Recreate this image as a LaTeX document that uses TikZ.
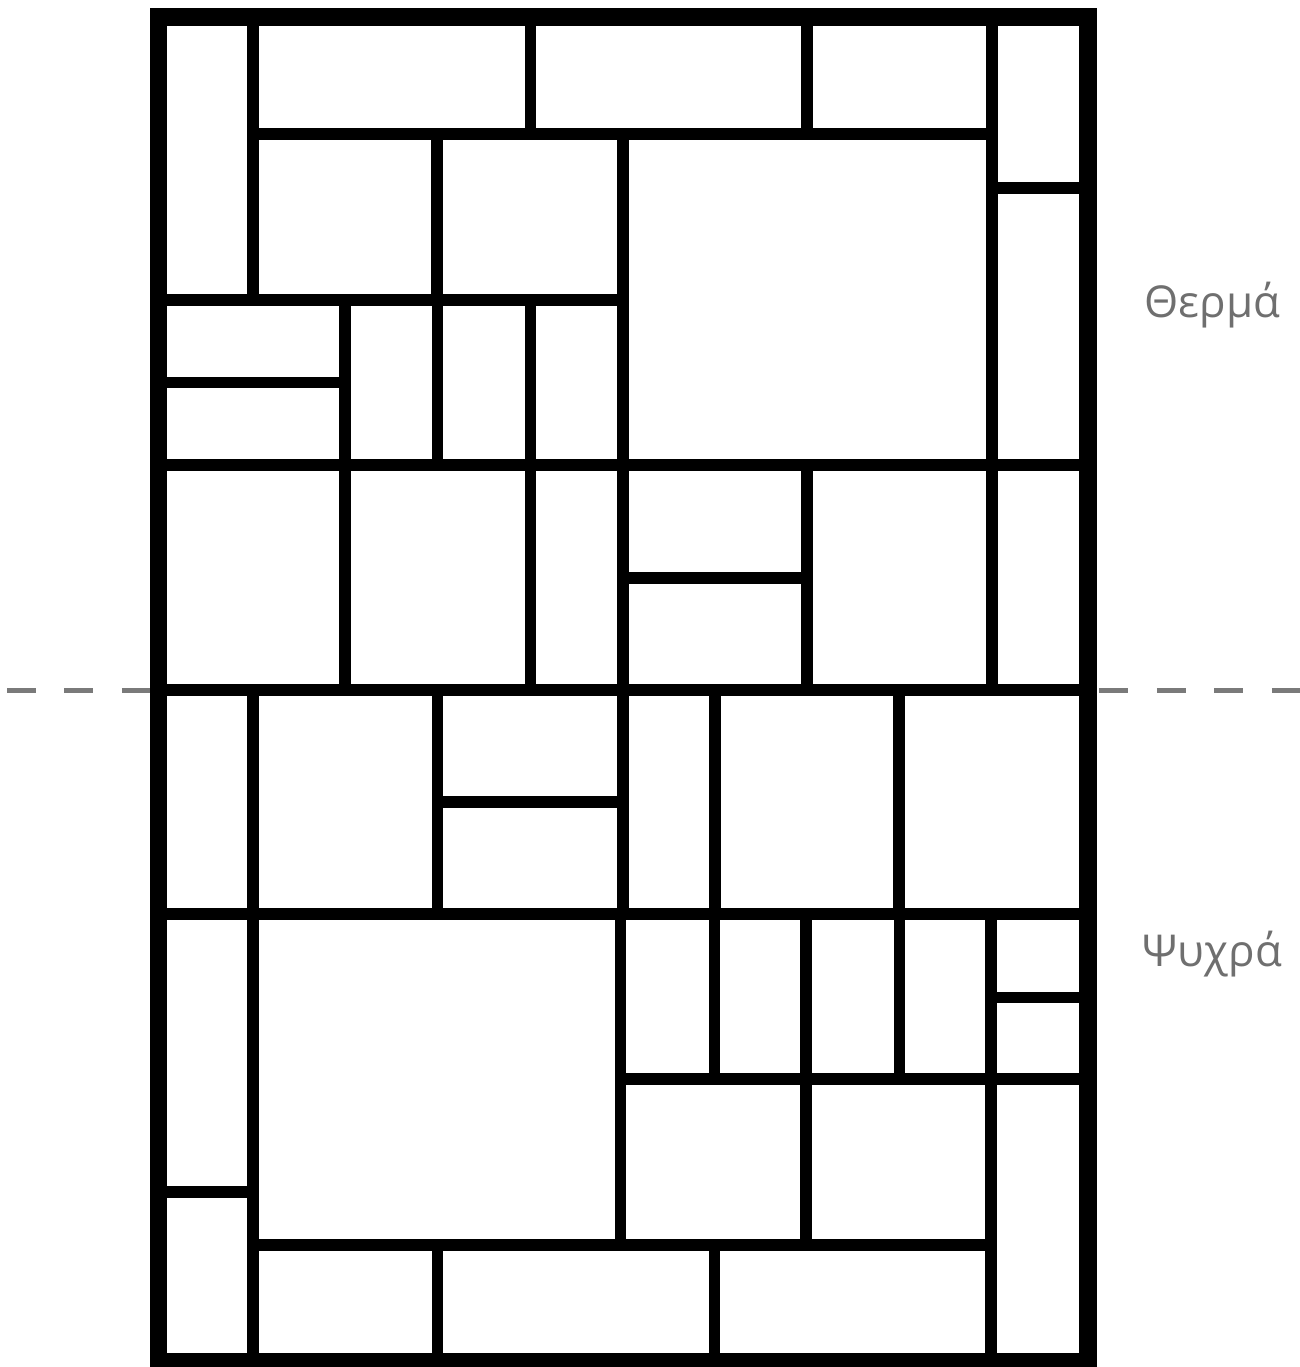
\documentclass[tikz,border=0pt]{standalone}
\usepackage{fontspec}
\setsansfont{Open Sans}
\definecolor{zonegray}{HTML}{6F6F6F}
\definecolor{splitgray}{HTML}{7A7A7A}

\begin{document}
\begin{tikzpicture}[x=0.02cm, y=-0.02cm,
    frame/.style={line width=0.36cm},
    wall/.style={line width=0.23cm},
    split/.style={splitgray, line width=0.1cm, dash pattern=on 0.58cm off 0.57cm},
    zone/.style={zonegray, font=\sffamily\fontsize{25}{25}\selectfont, anchor=base}]
  \useasboundingbox (0,0) rectangle (1300,1367);

  % hot / cold boundary, behind the plan
  \draw[split] (7,690) -- (1300,690);

  % full-width rows
  \draw[wall] (158,465) -- (1088,465);
  \draw[wall] (158,690) -- (1088,690);
  \draw[wall] (158,914) -- (1088,914);

  % upper part: top band and right column
  \draw[wall] (253,17) -- (253,300);
  \draw[wall] (253,134) -- (992,134);
  \draw[wall] (530.5,17) -- (530.5,134);
  \draw[wall] (807,17) -- (807,134);
  \draw[wall] (992,17) -- (992,690);
  \draw[wall] (992,188) -- (1088,188);
  \draw[wall] (437,134) -- (437,300);
  \draw[wall] (623,134) -- (623,914);
  \draw[wall] (158,300) -- (623,300);

  % upper part: small cells
  \draw[wall] (158,382.5) -- (345,382.5);
  \draw[wall] (345,300) -- (345,690);
  \draw[wall] (437.5,300) -- (437.5,465);
  \draw[wall] (530.5,300) -- (530.5,690);
  \draw[wall] (807,465) -- (807,690);
  \draw[wall] (623,578) -- (807,578);

  % lower part: first row
  \draw[wall] (253,690) -- (253,1362);
  \draw[wall] (437.5,690) -- (437.5,914);
  \draw[wall] (437.5,802) -- (623,802);
  \draw[wall] (715,690) -- (715,914);
  \draw[wall] (899,690) -- (899,914);

  % lower part: rest
  \draw[wall] (158,1192) -- (253,1192);
  \draw[wall] (620.5,914) -- (620.5,1245);
  \draw[wall] (253,1245) -- (992,1245);
  \draw[wall] (714.5,914) -- (714.5,1079);
  \draw[wall] (806,914) -- (806,1245);
  \draw[wall] (899.5,914) -- (899.5,1079);
  \draw[wall] (991,914) -- (991,1362);
  \draw[wall] (620.5,1079) -- (1088,1079);
  \draw[wall] (991,997.5) -- (1088,997.5);
  \draw[wall] (437.5,1245) -- (437.5,1362);
  \draw[wall] (714.5,1245) -- (714.5,1362);

  % outer frame
  \draw[frame] (158.5,17) rectangle (1087.5,1362);

  % labels
  \node[zone] (hot) at (1212.5,317) {Θερμά};
  \node[zone] (cold) at (1212.5,966) {Ψυχρά};
\end{tikzpicture}
\end{document}
